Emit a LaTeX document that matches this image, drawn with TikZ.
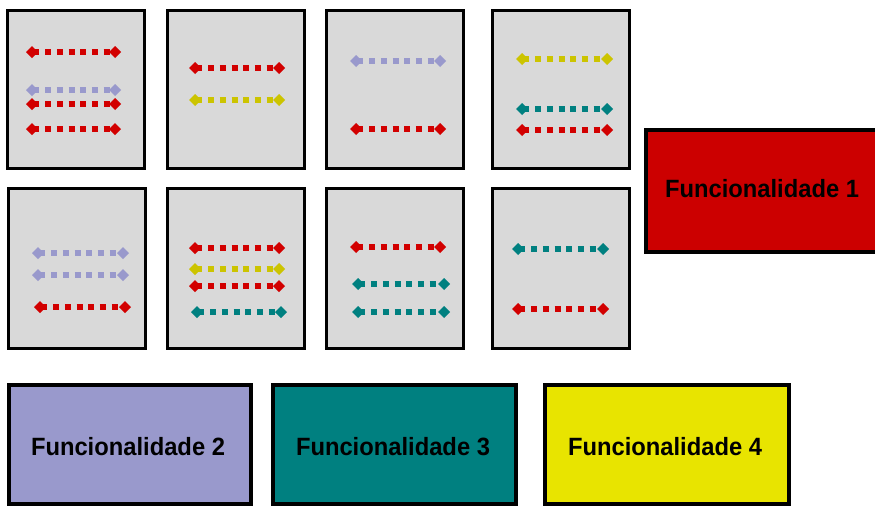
\documentclass[tikz,border=0pt]{standalone}
\usepackage{fontspec}
\setmainfont{Liberation Sans}
\newfontfamily\funcfont[FakeStretch=0.95]{Liberation Sans}
\usetikzlibrary{arrows.meta}
\definecolor{fred}{RGB}{204,0,0}
\definecolor{ared}{RGB}{210,0,0}
\definecolor{flav}{RGB}{153,153,204}
\definecolor{fteal}{RGB}{0,128,128}
\definecolor{fyel}{RGB}{232,228,0}
\definecolor{ayel}{RGB}{204,196,0}
\definecolor{cardgray}{RGB}{217,217,217}
\tikzset{
  card/.style={draw=black, line width=3pt, fill=cardgray, inner sep=0pt, minimum width=137pt, minimum height=158pt},
  fbox/.style={draw=black, line width=3.5pt, inner sep=0pt},
  ftext/.style={font=\funcfont\bfseries\fontsize{25}{28}\selectfont, text=black, inner sep=0pt},
  dotarrow/.style={line width=6pt, dash pattern=on 6pt off 5.7pt,
     {Diamond[length=12pt,width=12pt]}-{Diamond[length=12pt,width=12pt]}}
}
\newcommand{\darr}[5]{%
  \coordinate (#1a) at (#3,#5);
  \coordinate (#1b) at (#4,#5);
  \draw[dotarrow, #2] (#1a) -- (#1b);}
\begin{document}
\begin{tikzpicture}[x=1pt,y=-1pt]
\useasboundingbox (0,0) rectangle (875,506);
% cards
\node[card] (c1) at (75.5,89) {};
\node[card] (c2) at (235.5,89) {};
\node[card] (c3) at (394.5,89) {};
\node[card] (c4) at (561,89) {};
\node[card, minimum height=160pt] (c5) at (76.5,268) {};
\node[card, minimum height=160pt] (c6) at (235.5,268) {};
\node[card, minimum height=160pt] (c7) at (394.5,268) {};
\node[card, minimum height=160pt] (c8) at (561,268) {};
% card 1
\darr{a1}{ared}{26}{121}{52}
\darr{a2}{flav}{26}{121}{90}
\darr{a3}{ared}{26}{121}{104}
\darr{a4}{ared}{26}{121}{129}
% card 2
\darr{b1}{ared}{189}{285}{68}
\darr{b2}{ayel}{189}{285}{100}
% card 3
\darr{d1}{flav}{350}{446}{61}
\darr{d2}{ared}{350}{446}{129}
% card 4
\darr{e1}{ayel}{516}{613}{59}
\darr{e2}{fteal}{516}{613}{109}
\darr{e3}{ared}{516}{613}{130}
% card 5
\darr{g1}{flav}{32}{129}{253}
\darr{g2}{flav}{32}{129}{275}
\darr{g3}{ared}{34}{131}{307}
% card 6
\darr{h1}{ared}{189}{285}{248}
\darr{h2}{ayel}{189}{285}{269}
\darr{h3}{ared}{189}{285}{286}
\darr{h4}{fteal}{191}{287}{312}
% card 7
\darr{k1}{ared}{350}{446}{247}
\darr{k2}{fteal}{352}{450}{284}
\darr{k3}{fteal}{352}{450}{312}
% card 8
\darr{m1}{fteal}{512}{609}{249}
\darr{m2}{ared}{512}{609}{309}
% function boxes
\node[fbox, fill=fred, minimum width=240pt, minimum height=122pt, anchor=north west] (f1) at (644,128) {};
\node[ftext] (t1) at (762,189) {Funcionalidade 1};
\node[fbox, fill=flav, minimum width=242pt, minimum height=119pt] (f2) at (130,444.5) {};
\node[ftext] (t2) at (128,447) {Funcionalidade 2};
\node[fbox, fill=fteal, minimum width=243pt, minimum height=119pt] (f3) at (394.5,444.5) {};
\node[ftext] (t3) at (393,447) {Funcionalidade 3};
\node[fbox, fill=fyel, minimum width=244pt, minimum height=119pt] (f4) at (667,444.5) {};
\node[ftext] (t4) at (665,447) {Funcionalidade 4};
\end{tikzpicture}
\end{document}
